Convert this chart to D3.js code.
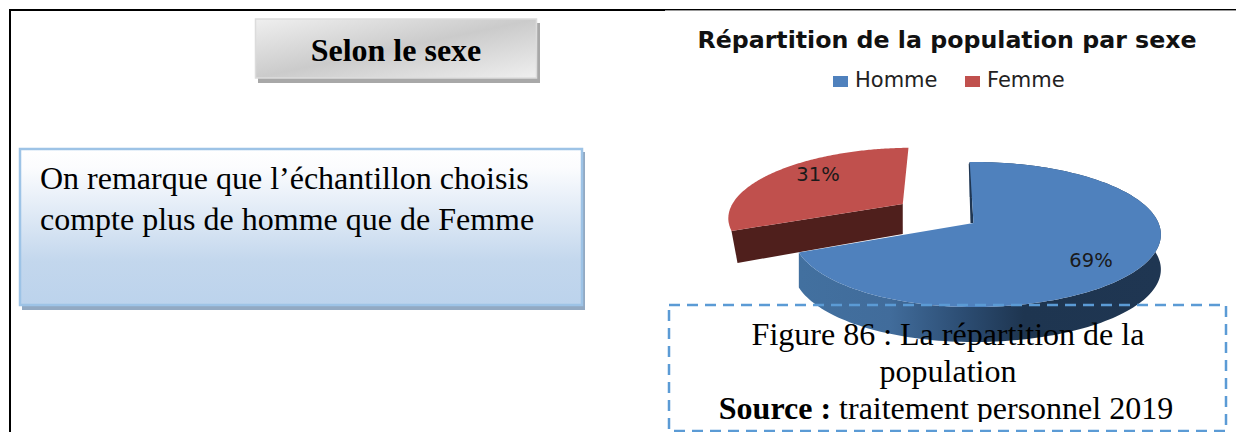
<!DOCTYPE html>
<html lang="fr">
<head>
<meta charset="utf-8">
<script src="https://cdn.jsdelivr.net/npm/d3@7/dist/d3.min.js"></script>
<style>
html,body{margin:0;padding:0;background:#fff;overflow:hidden}
svg{display:block}
.serif{font-family:"Liberation Serif",serif;fill:#000}
.sans{font-family:"DejaVu Sans",sans-serif}
</style>
</head>
<body>
<svg id="c" width="1236" height="432"></svg>
<script>
const categories = ["Homme", "Femme"];
const shares = [69, 31];
const shareLabels = ["69%", "31%"];
const colors = ["#4f81bd", "#c0504d"];
const chartTitle = "Répartition de la population par sexe";
const headerText = "Selon le sexe";
const noteLines = ["On remarque que l’échantillon choisis", "compte plus de homme que de Femme"];
const captionLines = ["Figure 86 : La répartition de la", "population"];

const svg = d3.select("#c");
const defs = svg.append("defs");

function grad(id, attrs, stops) {
  const g = defs.append("linearGradient").attr("id", id);
  Object.entries(attrs).forEach(([k, v]) => g.attr(k, v));
  stops.forEach(([o, c]) => g.append("stop").attr("offset", o).attr("stop-color", c));
}
grad("hdr", {x1: 0, y1: 0, x2: 1, y2: 1}, [[0, "#efefef"], [.5, "#cbcbcb"], [1, "#efefef"]]);
grad("note", {x1: 0, y1: 0, x2: 0, y2: 1}, [[0, "#ffffff"], [.12, "#fbfcfe"], [.72, "#c3d7ed"], [1, "#bcd3ec"]]);
grad("wall", {gradientUnits: "userSpaceOnUse", x1: 800, y1: 0, x2: 1161, y2: 0},
  [[0, "#42709f"], [.25, "#416c9b"], [.45, "#2c4d73"], [.62, "#1e3550"], [1, "#1f3652"]]);
defs.append("clipPath").attr("id", "capClip").append("rect")
  .attr("x", 660).attr("y", 300).attr("width", 576).attr("height", 122);

/* page frame */
svg.append("rect").attr("x", 9).attr("y", 9).attr("width", 2).attr("height", 423).attr("fill", "#000");
svg.append("rect").attr("x", 9).attr("y", 9).attr("width", 656).attr("height", 2).attr("fill", "#000");
svg.append("rect").attr("x", 665).attr("y", 9).attr("width", 571).attr("height", 1.4).attr("fill", "#000");

/* header box */
svg.append("rect").attr("x", 258).attr("y", 23).attr("width", 282).attr("height", 60).attr("fill", "#a8a8a8");
svg.append("rect").attr("x", 255.5).attr("y", 19).attr("width", 281).attr("height", 59)
  .attr("fill", "url(#hdr)").attr("stroke", "#dcdcdc").attr("stroke-width", 1.5);
svg.append("text").attr("class", "serif").attr("x", 396).attr("y", 61)
  .attr("text-anchor", "middle").attr("font-size", 32).attr("font-weight", 700).text(headerText);

/* note box */
svg.append("rect").attr("x", 22).attr("y", 152).attr("width", 563).attr("height", 158).attr("fill", "#92a9c2");
svg.append("rect").attr("x", 20).attr("y", 149).attr("width", 562).attr("height", 156)
  .attr("fill", "url(#note)").attr("stroke", "#9dc3e6").attr("stroke-width", 2.5);
svg.selectAll("text.note").data(noteLines).join("text").attr("class", "note serif")
  .attr("x", 40).attr("y", (d, i) => 189 + i * 41).attr("font-size", 32).text(d => d);

/* chart title + legend */
svg.append("text").attr("class", "sans").attr("x", 947).attr("y", 48)
  .attr("text-anchor", "middle").attr("font-size", 23.7).attr("font-weight", 700).attr("fill", "#111").text(chartTitle);
const legendX = d3.scaleOrdinal().domain(categories).range([833, 965]);
const lg = svg.selectAll("g.lg").data(categories).join("g").attr("class", "lg")
  .attr("transform", d => `translate(${legendX(d)},76)`);
lg.append("rect").attr("width", 15).attr("height", 11).attr("fill", (d, i) => colors[i]);
lg.append("text").attr("class", "sans").attr("x", 22).attr("y", 11)
  .attr("font-size", 21).attr("fill", "#222").text(d => d);

/* perspective pie */
const apex = {x: 973.5, y: 223}, rxRight = 185, rxLeft = 178, ryK = 70.7, k = 0.1586, depth = 35;
const startDeg = -1.4;
const project = (u, v) => {
  const w = 1 - k * v;
  return [apex.x + u * (u < 0 ? rxLeft : rxRight) / w, apex.y + v * ryK / w];
};
const pie = d3.pie().sort(null).startAngle(startDeg * Math.PI / 180)
  .endAngle((startDeg + 360) * Math.PI / 180);
const arcs = pie(shares);
const offsets = [[0, 0], [-0.415, -0.28]];
const line = d3.line();

function slicePts(a, off) {
  const n = 160, pts = [];
  d3.range(n + 1).forEach(i => {
    const t = a.startAngle + (a.endAngle - a.startAngle) * i / n;
    pts.push(project(Math.sin(t) + off[0], -Math.cos(t) + off[1]));
  });
  return pts;
}
const down = (p, dx = 0, dy = depth) => [p[0] + dx, p[1] + dy];

/* Femme (exploded) */
(function () {
  const off = offsets[1], a = arcs[1], pts = slicePts(a, off), c = project(off[0], off[1]);
  const corner = pts[0];
  svg.append("path").attr("d", line([c, corner, down(corner, 6, 32), down(c, 0, 30)]) + "Z").attr("fill", "#4f1f1c");
  svg.append("path").attr("d", line([c, ...pts]) + "Z").attr("fill", colors[1]);
})();

/* Homme */
(function () {
  const off = offsets[0], a = arcs[0], pts = slicePts(a, off), c = project(0, 0);
  svg.append("path").attr("d", line([...pts, ...pts.slice().reverse().map(p => down(p))]) + "Z").attr("fill", "url(#wall)");
  svg.append("path").attr("d", line([c, pts[0], [pts[0][0] - 1, pts[0][1] + 2], [c[0] - 3, c[1]]]) + "Z").attr("fill", "#1f3652");
  svg.append("path").attr("d", line([c, ...pts]) + "Z").attr("fill", colors[0]);
})();

/* value labels */
const labelPos = [[1091, 260], [818, 174]];
svg.selectAll("text.val").data(shareLabels).join("text").attr("class", "val sans")
  .attr("x", (d, i) => labelPos[i][0]).attr("y", (d, i) => labelPos[i][1])
  .attr("text-anchor", "middle").attr("dominant-baseline", "central")
  .attr("font-size", 19.5).attr("fill", "#1a1a1a").text(d => d);

/* caption box */
svg.append("rect").attr("x", 669).attr("y", 305).attr("width", 557).attr("height", 126)
  .attr("fill", "none").attr("stroke", "#5b9bd5").attr("stroke-width", 2.5).attr("stroke-dasharray", "11 7");
const capG = svg.append("g").attr("clip-path", "url(#capClip)");
capG.selectAll("text.cap").data(captionLines).join("text").attr("class", "cap serif")
  .attr("x", 948).attr("y", (d, i) => 345 + i * 37).attr("text-anchor", "middle")
  .attr("font-size", 32).text(d => d);
const src = capG.append("text").attr("class", "serif").attr("x", 946).attr("y", 419)
  .attr("text-anchor", "middle").attr("font-size", 32);
src.append("tspan").attr("font-weight", 700).text("Source : ");
src.append("tspan").text("traitement personnel 2019");
</script>
</body>
</html>
